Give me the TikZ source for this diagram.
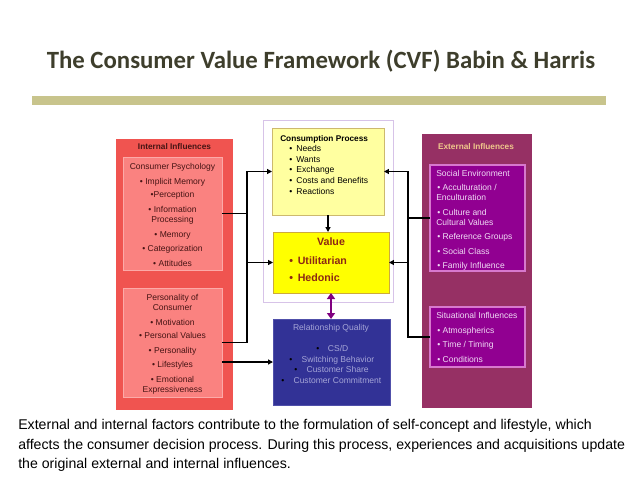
\documentclass[tikz,border=0pt]{standalone}
\usepackage{fontspec}
\setmainfont{Liberation Sans}
\newfontfamily\titlefont{Carlito}
\usetikzlibrary{fit,arrows.meta}
\definecolor{titlec}{RGB}{62,62,44}
\definecolor{barc}{RGB}{200,196,140}
\definecolor{redout}{RGB}{240,84,80}
\definecolor{redin}{RGB}{250,130,128}
\definecolor{redline}{RGB}{252,170,168}
\definecolor{redtxt}{RGB}{70,20,20}
\definecolor{lav}{RGB}{215,195,232}
\definecolor{consf}{RGB}{255,255,160}
\definecolor{consline}{RGB}{205,185,110}
\definecolor{valf}{RGB}{255,255,0}
\definecolor{valline}{RGB}{205,170,60}
\definecolor{valtxt}{RGB}{140,40,20}
\definecolor{bluef}{RGB}{50,50,150}
\definecolor{blueline}{RGB}{80,80,170}
\definecolor{bluetxt}{RGB}{165,165,215}
\definecolor{purpout}{RGB}{150,48,100}
\definecolor{purpin}{RGB}{145,0,145}
\definecolor{purpline}{RGB}{215,120,205}
\definecolor{purptxt}{RGB}{240,220,245}
\definecolor{exttxt}{RGB}{240,200,140}
\definecolor{dbl}{RGB}{128,0,128}
\begin{document}
\begin{tikzpicture}[x=0.75pt,y=-0.75pt,
  area/.style={fit={#1}, inner sep=0pt, outer sep=0pt},
  t/.style={font=\fontsize{6.4}{7}\selectfont, inner sep=0pt, anchor=mid},
  tl/.style={t, anchor=mid west},
  bt/.style={font=\fontsize{6.2}{7}\selectfont\bfseries, inner sep=0pt, anchor=mid},
  vt/.style={font=\fontsize{8}{9}\selectfont\bfseries, inner sep=0pt, text=valtxt},
  arr/.style={-{Triangle[length=3.6pt,width=3.6pt]}, line width=0.9pt},
  ln/.style={line width=0.9pt},
  captxt/.style={font=\fontsize{10.6}{12}\selectfont, inner sep=0pt, anchor=base west}]
\useasboundingbox (0,0) rectangle (638,479);

% title and bar
\node[font=\titlefont\bfseries\fontsize{18.6}{22}\selectfont, text=titlec, inner sep=0pt, anchor=base] (title) at (321,68) {The Consumer Value Framework (CVF) Babin \& Harris};
\node[area={(32,96) (606,105)}, fill=barc] (bar) {};

% internal influences
\node[area={(116,139) (233,410)}, fill=redout] (intbox) {};
\node[area={(123,157) (222,270)}, fill=redin, draw=redline, line width=0.7pt] (psy) {};
\node[area={(123,288) (222,397)}, fill=redin, draw=redline, line width=0.7pt] (pers) {};
\node[bt, text=redtxt] (intt) at (174.5,146) {Internal Influences};
\begin{scope}[every node/.style={t, text=redtxt}]
\node (p1) at (172.5,166) {Consumer Psychology};
\node (p2) at (172.5,181) {• Implicit Memory};
\node (p3) at (172.5,194) {•Perception};
\node (p4) at (172.5,209) {• Information};
\node (p5) at (172.5,219) {Processing};
\node (p6) at (172.5,234) {• Memory};
\node (p7) at (172.5,248) {• Categorization};
\node (p8) at (172.5,263) {• Attitudes};
\node (q1) at (172.5,297) {Personality of};
\node (q2) at (172.5,307) {Consumer};
\node (q3) at (172.5,322) {• Motivation};
\node (q4) at (172.5,335) {• Personal Values};
\node (q5) at (172.5,350) {• Personality};
\node (q6) at (172.5,364) {• Lifestyles};
\node (q7) at (172.5,379) {• Emotional};
\node (q8) at (172.5,389) {Expressiveness};
\end{scope}

% centre column
\node[area={(263,120) (393,302)}, draw=lav, line width=0.6pt] (frame) {};
\node[area={(272,128) (384,215)}, fill=consf, draw=consline, line width=0.6pt] (cons) {};
\node[area={(273,232) (389,293)}, fill=valf, draw=valline, line width=0.6pt] (val) {};
\node[area={(273,319) (390,405)}, fill=bluef, draw=blueline, line width=0.6pt] (rq) {};

\node[bt, anchor=mid west] (ct) at (280,138) {Consumption Process};
\begin{scope}[every node/.style={tl}]
\node (c1) at (289,148) {\makebox[5.4pt][l]{•}Needs};
\node (c2) at (289,159) {\makebox[5.4pt][l]{•}Wants};
\node (c3) at (289,169) {\makebox[5.4pt][l]{•}Exchange};
\node (c4) at (289,180) {\makebox[5.4pt][l]{•}Costs and Benefits};
\node (c5) at (289,191) {\makebox[5.4pt][l]{•}Reactions};
\end{scope}

\node[vt, anchor=mid] (vt) at (331,242) {Value};
\node[vt, anchor=mid west] (v1) at (289,261) {\makebox[6.4pt][l]{•}Utilitarian};
\node[vt, anchor=mid west] (v2) at (289,278) {\makebox[6.4pt][l]{•}Hedonic};

\node[t, text=bluetxt] (rt) at (331,327) {Relationship Quality};
\begin{scope}[every node/.style={tl, text=bluetxt}]
\node (r1) at (316,348) {\textcolor{black}{•}\hspace{6.5pt}CS/D};
\node (r2) at (289,359) {\textcolor{black}{•}\hspace{7pt}Switching Behavior};
\node (r3) at (294,369) {\textcolor{black}{•}\hspace{7pt}Customer Share};
\node (r4) at (281,380) {\textcolor{black}{•}\hspace{7pt}Customer Commitment};
\end{scope}

% external influences
\node[area={(422,134) (532,408)}, fill=purpout] (extbox) {};
\node[area={(430,165) (525,271)}, fill=purpin, draw=purpline, line width=0.8pt] (soc) {};
\node[area={(430,307) (525,367)}, fill=purpin, draw=purpline, line width=0.8pt] (sit) {};
\node[bt, text=exttxt] (et) at (476,146) {External Influences};
\begin{scope}[every node/.style={tl, text=purptxt}]
\node (s1) at (436,173) {Social Environment};
\node (s2) at (437,187) {• Acculturation /};
\node (s3) at (436,197) {Enculturation};
\node (s4) at (437,212) {• Culture and};
\node (s5) at (436,222) {Cultural Values};
\node (s6) at (437,236) {• Reference Groups};
\node (s7) at (437,251) {• Social Class};
\node (s8) at (437,265) {• Family Influence};
\node (u1) at (436,315) {Situational Influences};
\node (u2) at (437,330) {• Atmospherics};
\node (u3) at (437,344) {• Time / Timing};
\node (u4) at (437,359) {• Conditions};
\end{scope}

% connectors
\coordinate (lx) at (247,0);
\coordinate (rx) at (408,0);
\draw[ln] (psy.east) -- (psy.east -| lx);
\draw[arr] (pers.east) -| (lx |- cons.west) -- (cons.west);
\draw[arr] (lx |- val.west) -- (val.west);
\draw[arr] (pers.east |- rq.west) -- (rq.west);
\draw[ln] (soc.west) -- (soc.west -| rx);
\draw[arr] (sit.west) -| (rx |- cons.east) -- (cons.east);
\draw[arr] (rx |- val.east) -- (val.east);
\draw[arr] (cons.south) -- (cons.south |- val.north);
\draw[dbl, line width=1.8pt, {Triangle[length=4.5pt,width=6pt]}-{Triangle[length=4.5pt,width=6pt]}] (val.south) -- (val.south |- rq.north);

% caption
\node[captxt] (cap1) at (18,429) {External and internal factors contribute to the formulation of self-concept and lifestyle, which};
\node[captxt] (cap2) at (18,449) {affects the consumer decision process. During this process, experiences and acquisitions update};
\node[captxt] (cap3) at (18,468) {the original external and internal influences.};
\end{tikzpicture}
\end{document}
